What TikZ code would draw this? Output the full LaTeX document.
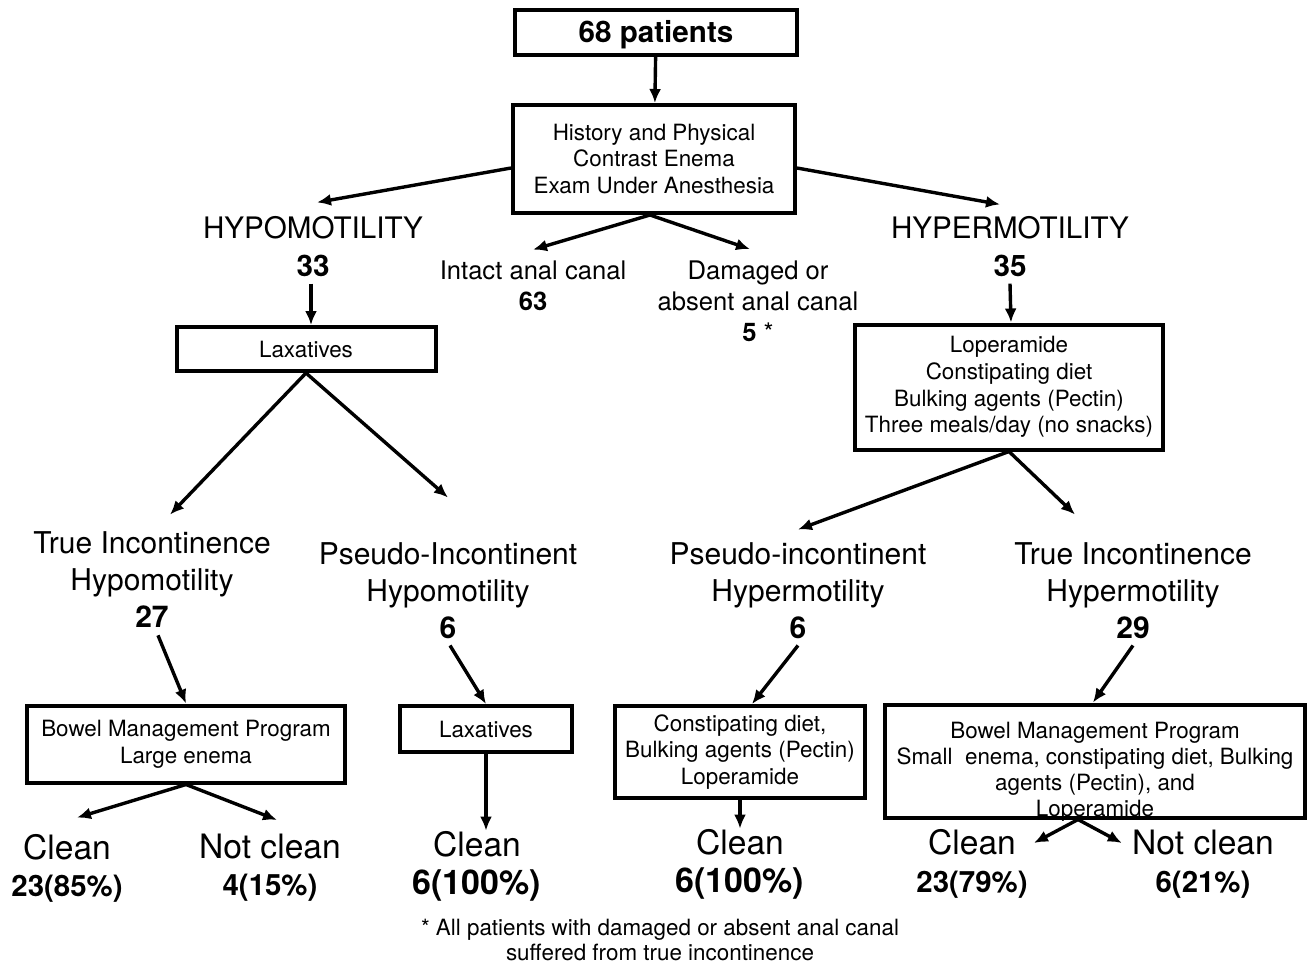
\documentclass[tikz,border=0pt]{standalone}
\usepackage{fontspec}
\setmainfont{TeX Gyre Heros}
\usetikzlibrary{arrows.meta}

\begin{document}
\begin{tikzpicture}[x=0.5pt,y=-0.5pt,
		box/.style={draw,line width=2pt,align=center,inner sep=0pt,font=\fontsize{11.2}{13.4}\selectfont},
		lbl/.style={align=center,inner sep=0pt},
		arr/.style={line width=1.7pt,-{Latex[length=7pt,width=6pt]}}]
		\useasboundingbox (0,0) rectangle (1313,966);
		
		\node[box,minimum width=141pt,minimum height=22.5pt,text depth=1pt,font=\fontsize{14.8}{17}\selectfont\bfseries] (pat) at (656,32) {68 patients};
		\node[box,minimum width=141pt,minimum height=54pt] (hist) at (654,159) {History and Physical\\Contrast Enema\\Exam Under Anesthesia};
		
		\node[lbl,font=\fontsize{14.8}{19}\selectfont] (hypo) at (313,247) {HYPOMOTILITY\\\textbf{33}};
		\node[lbl,font=\fontsize{14.8}{19}\selectfont] (hyper) at (1010,247) {HYPERMOTILITY\\\textbf{35}};
		\node[lbl,font=\fontsize{12.8}{15.5}\selectfont] (intact) at (533,286) {Intact anal canal\\\textbf{63}};
		\node[lbl,font=\fontsize{12.8}{15.5}\selectfont] (damaged) at (758,301) {Damaged or\\absent anal canal\\\textbf{5} *};
		
		\node[box,minimum width=129.5pt,minimum height=22pt] (laxa) at (306,349) {Laxatives};
		\node[box,minimum width=154pt,minimum height=62.5pt] (lop) at (1009,387) {Loperamide\\Constipating diet\\Bulking agents (Pectin)\\Three meals/day (no snacks)};
		
		\node[lbl,font=\fontsize{15}{18.5}\selectfont] (truehypo) at (152,580) {True Incontinence\\Hypomotility\\\textbf{27}};
		\node[lbl,font=\fontsize{15}{18.5}\selectfont] (pseudohypo) at (448,591) {Pseudo-Incontinent\\Hypomotility\\\textbf{6}};
		\node[lbl,font=\fontsize{15}{18.5}\selectfont] (pseudohyper) at (798,591) {Pseudo-incontinent\\Hypermotility\\\textbf{6}};
		\node[lbl,font=\fontsize{15}{18.5}\selectfont] (truehyper) at (1133,591) {True Incontinence\\Hypermotility\\\textbf{29}};
		
		\node[box,minimum width=159pt,minimum height=38.5pt] (bmpa) at (186,744) {Bowel Management Program\\Large enema};
		\node[box,minimum width=86pt,minimum height=23pt] (laxb) at (486,729) {Laxatives};
		\node[box,minimum width=125pt,minimum height=46pt] (constip) at (740,752) {Constipating diet,\\Bulking agents (Pectin)\\Loperamide};
		\node[box,minimum width=210pt,minimum height=56.5pt,label={[font=\fontsize{11.2}{13}\selectfont,align=center,yshift=-5.5pt]center:{Bowel Management Program\\Small~ enema, constipating diet, Bulking\\agents (Pectin), and\\Loperamide}}] (bmpb) at (1095,761) {};
		
		\node[lbl,font=\fontsize{16.8}{18.5}\selectfont] (cleana) at (67,868) {Clean\\\fontsize{14.7}{18.5}\selectfont\bfseries 23(85\%)};
		\node[lbl,font=\fontsize{16.8}{18.5}\selectfont] (notcleana) at (270,868) {Not clean\\\fontsize{14.7}{18.5}\selectfont\bfseries 4(15\%)};
		\node[lbl,font=\fontsize{16.8}{19}\selectfont] (cleanb) at (477,866) {Clean\\\fontsize{17}{19}\selectfont\bfseries 6(100\%)};
		\node[lbl,font=\fontsize{16.8}{19}\selectfont] (cleanc) at (740,864) {Clean\\\fontsize{17}{19}\selectfont\bfseries 6(100\%)};
		\node[lbl,font=\fontsize{16.8}{19}\selectfont] (cleand) at (972,864) {Clean\\\fontsize{14.7}{19}\selectfont\bfseries 23(79\%)};
		\node[lbl,font=\fontsize{16.8}{19}\selectfont] (notcleand) at (1203,864) {Not clean\\\fontsize{14.7}{19}\selectfont\bfseries 6(21\%)};
		
		\node[lbl,font=\fontsize{11.2}{12.5}\selectfont] (note) at (660,940) {* All patients with damaged or absent anal canal\\suffered from true incontinence};
		
		\draw[arr] (pat) -- (hist);
		\draw[arr] ([yshift=-4.5pt]hist.west) -- ([shift={(2pt,7pt)}]hypo.north);
		\draw[arr] ([yshift=-4.5pt]hist.east) -- ([shift={(-5pt,6pt)}]hyper.north);
		\draw[arr] ([xshift=-2pt]hist.south) -- ([yshift=5.5pt]intact.north);
		\draw[arr] ([xshift=-2pt]hist.south) -- ([shift={(-4pt,5.5pt)}]damaged.north);
		
		\draw[arr] ([shift={(-1pt,-3pt)}]hypo.south) -- ([xshift=2.5pt]laxa.north);
		\draw[arr] ([yshift=-3pt]hyper.south) -- ([xshift=1pt]lop.north);
		
		\draw[arr] (laxa.south) -- ([shift={(9pt,8.5pt)}]truehypo.north);
		\draw[arr] (laxa.south) -- ([yshift=22.5pt]pseudohypo.north);
		\draw[arr] (lop.south) -- ([yshift=6.5pt]pseudohyper.north);
		\draw[arr] (lop.south) -- ([shift={(-29pt,14pt)}]truehyper.north);
		
		\draw[arr] ([shift={(3pt,-3.5pt)}]truehypo.south) -- (bmpa.north);
		\draw[arr] ([shift={(1pt,-3pt)}]pseudohypo.south) -- (laxb.north);
		\draw[arr] ([yshift=-3pt]pseudohyper.south) -- ([xshift=6pt]constip.north);
		\draw[arr] ([yshift=-3pt]truehyper.south) -- ([xshift=-1pt]bmpb.north);
		
		\draw[arr] (bmpa.south) -- ([shift={(5pt,8pt)}]cleana.north);
		\draw[arr] (bmpa.south) -- ([shift={(3.5pt,7pt)}]notcleana.north);
		\draw[arr] (laxb.south) -- (laxb.south |- cleanb.north);
		\draw[arr] (constip.south) -- (constip.south |- cleanc.north);
		\draw[arr] ([xshift=-8.5pt]bmpb.south) -- ([shift={(3pt,10.5pt)}]cleand.east);
		\draw[arr] ([xshift=-8.5pt]bmpb.south) -- ([shift={(-5pt,10.5pt)}]notcleand.west);
	\end{tikzpicture}
\end{document}
